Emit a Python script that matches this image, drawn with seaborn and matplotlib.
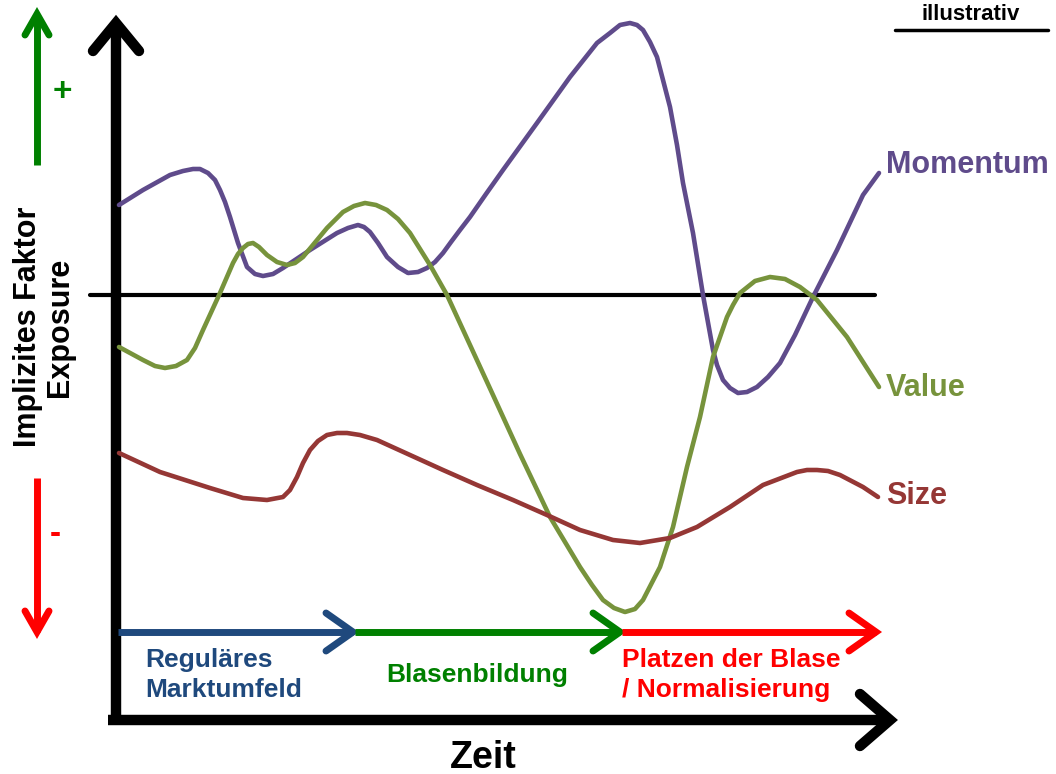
import pandas as pd
import matplotlib
matplotlib.use("Agg")
import matplotlib.pyplot as plt
import seaborn as sns

# Zeit (x) und implizite Faktor-Exposure (y), 0 = neutrale Linie
momentum_t = [1, 25, 52, 65, 75, 82, 90, 97, 102, 107, 112, 120, 129, 137, 145, 155, 165, 192,
              219, 230, 240, 246, 252, 260, 269, 280, 290, 300, 309, 317, 325, 333, 342, 352,
              368, 385, 419, 452, 479, 492, 502, 512, 519, 525, 532, 539, 545, 552, 559, 565,
              575, 585, 595, 599, 605, 612, 620, 629, 639, 650, 662, 677, 695, 719, 745, 761]
momentum_e = [90, 105, 120, 124, 126, 126, 122, 115, 105, 93, 78, 52, 28, 21, 19, 21, 27, 45,
              62, 67, 70, 68, 63, 52, 38, 28, 22, 23, 27, 33, 42, 53, 65, 78,
              101, 125, 172, 218, 252, 262, 270, 272, 270, 265, 253, 238, 215, 188, 150, 112,
              62, 0, -55, -70, -85, -93, -98, -97, -92, -82, -68, -40, -2, 45, 100, 122]

value_t = [1, 25, 37, 47, 58, 69, 77, 85, 102, 115, 120, 125, 130, 135, 141, 149, 159, 169,
           177, 185, 209, 225, 236, 247, 258, 269, 280, 292, 312, 329, 352, 375, 402, 432,
           462, 474, 485, 496, 507, 517, 525, 542, 555, 569, 582, 595, 609, 615, 622, 637,
           652, 667, 682, 699, 729, 761]
value_e = [-52, -65, -71, -73, -71, -65, -53, -35, 2, 32, 41, 47, 51, 52, 48, 40, 33, 30,
           32, 38, 67, 83, 89, 92, 90, 85, 76, 62, 30, 0, -50, -100, -159, -222,
           -272, -290, -305, -313, -317, -314, -305, -272, -232, -172, -122, -62, -22, -10, 2, 14,
           18, 16, 8, -5, -42, -92]

size_t = [1, 42, 92, 125, 137, 149, 165, 172, 179, 185, 192, 200, 209, 219, 229, 242, 259, 292,
          325, 359, 395, 429, 462, 495, 522, 552, 579, 612, 645, 679, 689, 699, 710, 722, 745, 760]
size_e = [-158, -177, -193, -203, -204, -205, -202, -195, -182, -168, -155, -146, -140, -138,
          -138, -140, -145, -160, -175, -190, -205, -220, -235, -245, -248, -243, -232, -212,
          -190, -177, -175, -175, -176, -180, -192, -202]

faktoren = ["Momentum", "Value", "Size"]
farben = {"Momentum": "#5F4B8B", "Value": "#77933C", "Size": "#953735"}

# Phasen auf der Zeitachse
phasen = ["Reguläres\nMarktumfeld", "Blasenbildung", "Platzen der Blase\n/ Normalisierung"]
phasen_grenzen = [0, 237, 504, 760]
phasen_farben = ["#1F497D", "#008000", "#FF0000"]

df = pd.concat([
    pd.DataFrame({"Zeit": momentum_t, "Exposure": momentum_e, "Faktor": "Momentum"}),
    pd.DataFrame({"Zeit": value_t, "Exposure": value_e, "Faktor": "Value"}),
    pd.DataFrame({"Zeit": size_t, "Exposure": size_e, "Faktor": "Size"}),
])

sns.set_theme(style="white")
plt.rcParams["font.family"] = ["Liberation Sans", "DejaVu Sans"]
plt.rcParams["text.color"] = "black"

fig = plt.figure(figsize=(10.56, 7.74), dpi=100)
ax = fig.add_axes([0, 0, 1, 1])
ax.set_xlim(-118, 938)
ax.set_ylim(-479, 295)
ax.axis("off")


def pfeil(x0, y0, x1, y1, farbe, lw, kx, ky):
    # Linie mit offener Pfeilspitze (Chevron) am Ende
    ax.plot([x0, x1], [y0, y1], color=farbe, lw=lw, solid_capstyle="butt", zorder=3)
    if x0 == x1:
        arme = ([x1 - kx, x1, x1 + kx], [y1 - ky, y1, y1 - ky])
    else:
        arme = ([x1 - kx, x1, x1 - kx], [y1 + ky, y1, y1 - ky])
    ax.plot(*arme, color=farbe, lw=lw, solid_capstyle="round", solid_joinstyle="miter", zorder=3)


# Nulllinie
ax.plot([-28, 757], [0, 0], color="black", lw=3, zorder=2)

sns.lineplot(data=df, x="Zeit", y="Exposure", hue="Faktor", palette=farben, sort=False,
             estimator=None, lw=3.3, legend=False, ax=ax, zorder=4)
for line in ax.lines:
    line.set_solid_joinstyle("round")

# Achsen
pfeil(-2, -428, -2, 272, "black", 7.5, 23, 28)
pfeil(-10, -425, 772, -425, "black", 7.5, 30, 26)

# Phasenpfeile
for i, name in enumerate(phasen):
    pfeil(phasen_grenzen[i], -337, phasen_grenzen[i + 1] - 2, -337, phasen_farben[i], 5, 27, 19)

ax.text(27, -380, phasen[0], color=phasen_farben[0], fontsize=19, fontweight="bold",
        ha="left", va="center", linespacing=1.3)
ax.text(359, -380, phasen[1], color=phasen_farben[1], fontsize=19, fontweight="bold",
        ha="center", va="center")
ax.text(504, -380, phasen[2], color=phasen_farben[2], fontsize=19, fontweight="bold",
        ha="left", va="center", linespacing=1.3)

# Beschriftung der Faktoren
label_e = {"Momentum": 130, "Value": -93, "Size": -201}
for f in faktoren:
    ax.text(768, label_e[f], f, color=farben[f], fontsize=22, fontweight="bold",
            ha="left", va="center")

# Achsentitel
ax.text(365, -463, "Zeit", fontsize=27, fontweight="bold", ha="center", va="center")
ax.text(-74, -32, "Implizites Faktor\nExposure", fontsize=22, fontweight="bold", rotation=90,
        ha="center", va="center", multialignment="center", linespacing=1.05)

# Plus / Minus Pfeile links
pfeil(-81, 130, -81, 281, "#008000", 5, 12, 21)
pfeil(-81, -183, -81, -337, "#FF0000", 5, 12, -21)
ax.text(-56, 202, "+", color="#008000", fontsize=24, fontweight="bold", ha="center", va="center")
ax.text(-63, -240, "-", color="#FF0000", fontsize=24, fontweight="bold", ha="center", va="center")

# illustrativ
ax.text(853, 275, "illustrativ", fontsize=16, fontweight="bold", ha="center", va="baseline")
ax.plot([777, 930], [265, 265], color="black", lw=2.5)

fig.savefig("out.png", dpi=100)
